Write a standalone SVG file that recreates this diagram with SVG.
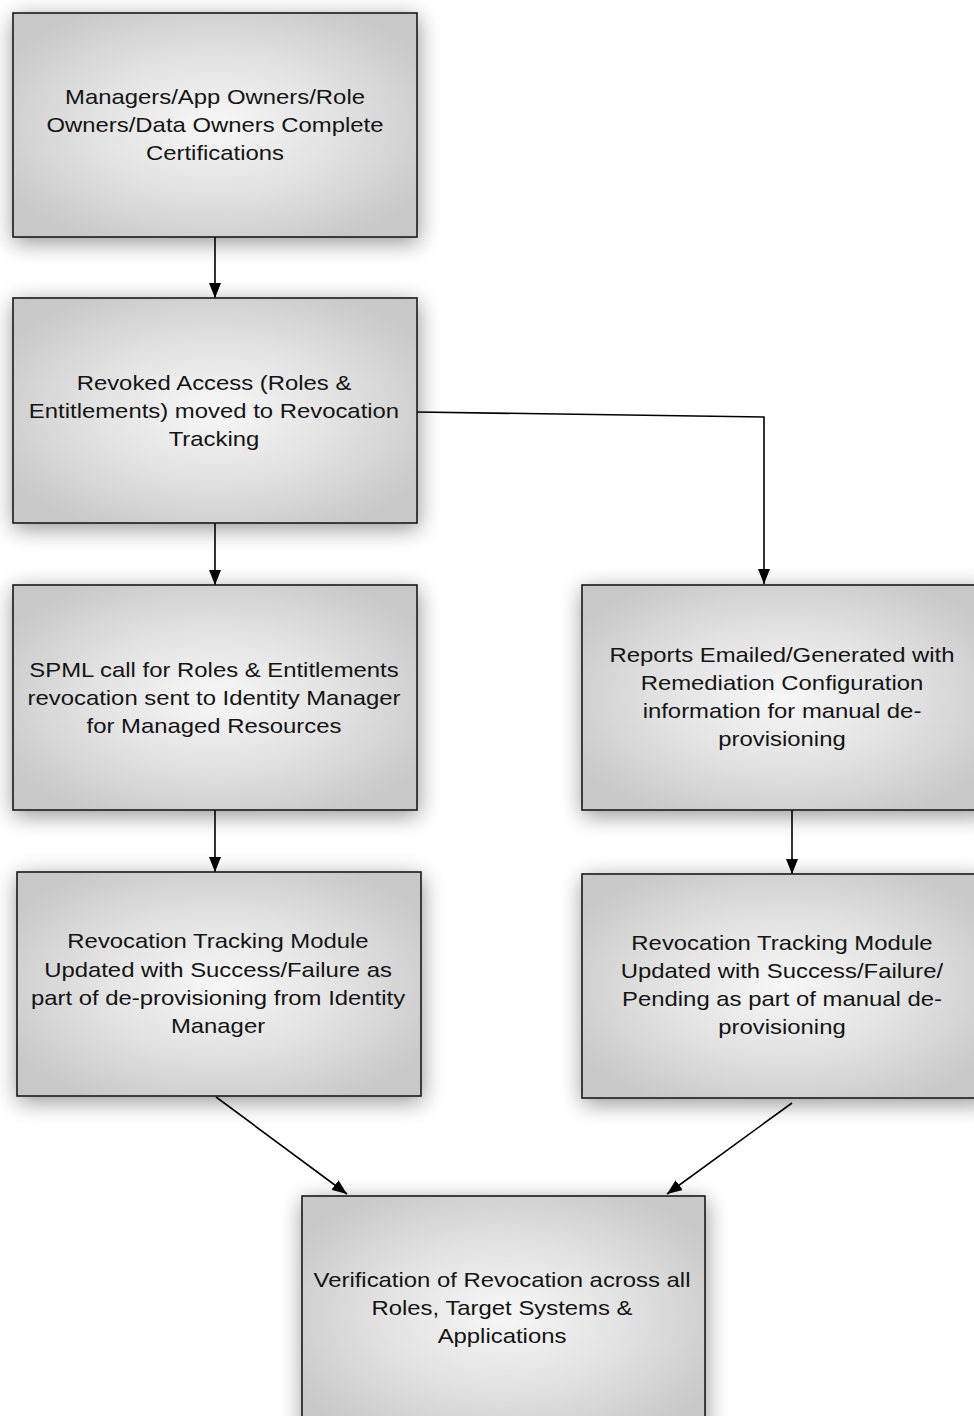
<svg xmlns="http://www.w3.org/2000/svg" width="974" height="1416" viewBox="0 0 974 1416">
<defs>
<radialGradient id="boxfill" cx="50%" cy="50%" r="60%">
<stop offset="0" stop-color="#f7f7f7"/>
<stop offset="0.55" stop-color="#e0e0e0"/>
<stop offset="1" stop-color="#c8c8c8"/>
</radialGradient>
<filter id="shadow" x="-20%" y="-20%" width="140%" height="150%">
<feGaussianBlur in="SourceAlpha" stdDeviation="11"/>
<feOffset dx="1" dy="5" result="b"/>
<feComponentTransfer><feFuncA type="linear" slope="0.42"/></feComponentTransfer>
<feMerge><feMergeNode/><feMergeNode in="SourceGraphic"/></feMerge>
</filter>
<marker id="arrow" markerUnits="userSpaceOnUse" markerWidth="15" markerHeight="12" refX="15" refY="6" orient="auto">
<path d="M0,0 L15,6 L0,12 z" fill="#000"/>
</marker>
</defs>
<style>
.box{fill:url(#boxfill);stroke:#1a1a1a;stroke-width:1.6;filter:url(#shadow)}
.lbl{font-family:"Liberation Sans",Arial,Helvetica,sans-serif;font-size:20.5px;fill:#141414;text-anchor:middle}
.conn{fill:none;stroke:#000;stroke-width:1.6;marker-end:url(#arrow)}
</style>
<rect width="974" height="1416" fill="#fff"/>

<g id="connectors">
<path class="conn" d="M215,237 L215,298"/>
<path class="conn" d="M215,523 L215,585"/>
<path class="conn" d="M215,810 L215,872"/>
<path class="conn" d="M417,412 L764,417 L764,584"/>
<path class="conn" d="M792,810 L792,874"/>
<path class="conn" d="M216,1097 L347,1194"/>
<path class="conn" d="M792,1103 L667,1194"/>
</g>

<g id="n1">
<rect class="box" x="13" y="13" width="404" height="224"/>
<g transform="translate(215,0) scale(1.165,1)">
<text class="lbl" x="0" y="104">Managers/App Owners/Role</text>
<text class="lbl" x="0" y="132">Owners/Data Owners Complete</text>
<text class="lbl" x="0" y="160">Certifications</text>
</g>
</g>

<g id="n2">
<rect class="box" x="13" y="298" width="404" height="225"/>
<g transform="translate(214,0) scale(1.165,1)">
<text class="lbl" x="0" y="390">Revoked Access (Roles &amp;</text>
<text class="lbl" x="0" y="418">Entitlements) moved to Revocation</text>
<text class="lbl" x="0" y="446">Tracking</text>
</g>
</g>

<g id="n3">
<rect class="box" x="13" y="585" width="404" height="225"/>
<g transform="translate(214,0) scale(1.165,1)">
<text class="lbl" x="0" y="677">SPML call for Roles &amp; Entitlements</text>
<text class="lbl" x="0" y="705">revocation sent to Identity Manager</text>
<text class="lbl" x="0" y="733">for Managed Resources</text>
</g>
</g>

<g id="n4">
<rect class="box" x="17" y="872" width="404" height="224"/>
<g transform="translate(218,0) scale(1.165,1)">
<text class="lbl" x="0" y="948">Revocation Tracking Module</text>
<text class="lbl" x="0" y="977">Updated with Success/Failure as</text>
<text class="lbl" x="0" y="1005">part of de-provisioning from Identity</text>
<text class="lbl" x="0" y="1033">Manager</text>
</g>
</g>

<g id="n5">
<rect class="box" x="582" y="585" width="404" height="225"/>
<g transform="translate(782,0) scale(1.165,1)">
<text class="lbl" x="0" y="662">Reports Emailed/Generated with</text>
<text class="lbl" x="0" y="690">Remediation Configuration</text>
<text class="lbl" x="0" y="718">information for manual de-</text>
<text class="lbl" x="0" y="746">provisioning</text>
</g>
</g>

<g id="n6">
<rect class="box" x="582" y="874" width="404" height="224"/>
<g transform="translate(782,0) scale(1.165,1)">
<text class="lbl" x="0" y="950">Revocation Tracking Module</text>
<text class="lbl" x="0" y="978">Updated with Success/Failure/</text>
<text class="lbl" x="0" y="1006">Pending as part of manual de-</text>
<text class="lbl" x="0" y="1034">provisioning</text>
</g>
</g>

<g id="n7">
<rect class="box" x="302" y="1196" width="403" height="240"/>
<g transform="translate(502,0) scale(1.165,1)">
<text class="lbl" x="0" y="1287">Verification of Revocation across all</text>
<text class="lbl" x="0" y="1315">Roles, Target Systems &amp;</text>
<text class="lbl" x="0" y="1343">Applications</text>
</g>
</g>
</svg>
